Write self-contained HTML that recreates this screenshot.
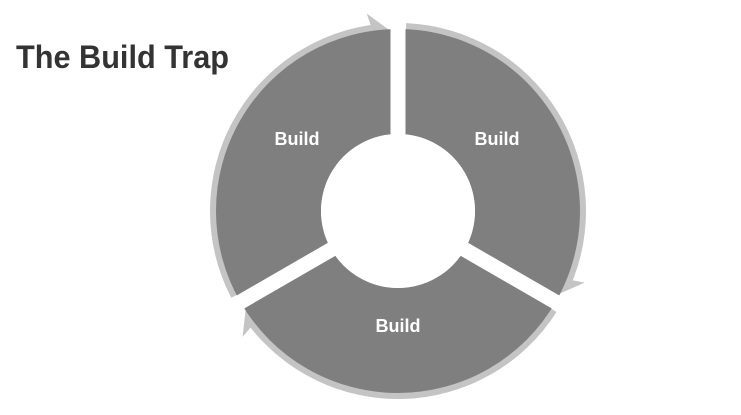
<!DOCTYPE html>
<html><head><meta charset="utf-8"><style>
html,body{margin:0;padding:0;background:#fff;}
svg{display:block;}
</style></head><body>
<svg id="s" width="741" height="415" viewBox="0 0 741 415" xmlns="http://www.w3.org/2000/svg">
<g id="g"></g>
<text x="16" y="68" font-family="Liberation Sans, sans-serif" font-weight="bold" font-size="32" fill="#333" textLength="213" lengthAdjust="spacingAndGlyphs">The Build Trap</text>
<g font-family="Liberation Sans, sans-serif" font-weight="bold" font-size="18" fill="#fff" text-anchor="middle">
<text x="297" y="145">Build</text>
<text x="497" y="145">Build</text>
<text x="398" y="332">Build</text>
</g>
</svg>
<script>
var cx=398,cy=211,g=document.getElementById('g'),ns='http://www.w3.org/2000/svg';
function P(r,a){a=a*Math.PI/180;return [cx+r*Math.cos(a),cy+r*Math.sin(a)];}
function ann(r1,r2,a1,a2,fill){
 var p1=P(r2,a1),p2=P(r2,a2),p3=P(r1,a2),p4=P(r1,a1);
 var d='M'+p1+' A'+r2+' '+r2+' 0 0 1 '+p2+' L'+p3+' A'+r1+' '+r1+' 0 0 0 '+p4+'Z';
 var e=document.createElementNS(ns,'path');e.setAttribute('d',d);e.setAttribute('fill',fill);g.appendChild(e);
}
function poly(pts,fill){var e=document.createElementNS(ns,'polygon');e.setAttribute('points',pts.map(function(p){return p.join(',')}).join(' '));e.setAttribute('fill',fill);g.appendChild(e);}
var segs=[[-90,30],[30,150],[150,270]];
segs.forEach(function(s){
 ann(176,188,s[0]+2.5,s[1]-6,'#c4c4c4');
 var b=s[1]-7.5,t=s[1]-2.3;
 poly([P(174,b),P(200,b-1.5),P(180,t)],'#c4c4c4');
});
segs.forEach(function(s){ann(77,182,s[0],s[1],'#7f7f7f');});
[-90,30,150].forEach(function(a){
 var r=a*Math.PI/180,dx=Math.cos(r),dy=Math.sin(r),nx=-dy*7.5,ny=dx*7.5;
 poly([[cx+nx,cy+ny],[cx+dx*200+nx,cy+dy*200+ny],[cx+dx*200-nx,cy+dy*200-ny],[cx-nx,cy-ny]],'#fff');
});
var c=document.createElementNS(ns,'circle');c.setAttribute('cx',cx);c.setAttribute('cy',cy);c.setAttribute('r',77);c.setAttribute('fill','#fff');g.appendChild(c);
</script>
</body></html>
